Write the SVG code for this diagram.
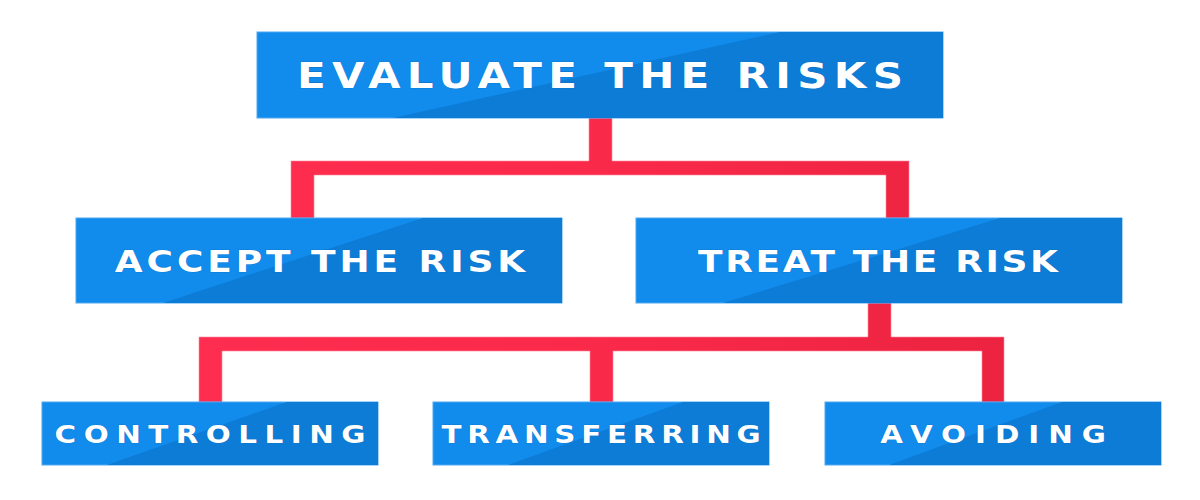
<svg xmlns="http://www.w3.org/2000/svg" width="1200" height="500" viewBox="0 0 1200 500">
<defs>
<linearGradient id="red" gradientUnits="userSpaceOnUse" x1="200" y1="0" x2="1010" y2="0">
<stop offset="0" stop-color="#FF2D4F"/>
<stop offset="0.45" stop-color="#FB2A4B"/>
<stop offset="1" stop-color="#EC2340"/>
</linearGradient>
<style>
.box{fill:#118BEC;stroke:#4FA8F0;stroke-width:1}
.shade{fill:#0D7CD6}
.lbl{font-family:"DejaVu Sans","Liberation Sans",sans-serif;font-weight:bold;fill:#FFFFFF;text-anchor:middle;stroke:#0A6FC4;stroke-width:0.6;paint-order:stroke}
.wire{fill:url(#red);stroke:#FF8A9C;stroke-width:0.6}
</style>
</defs>
<rect width="1200" height="500" fill="#FFFFFF"/>
<g id="connectors">
<path class="wire" d="M589,118 H612 V161 H909 V218 H886 V175 H314 V218 H291 V161 H589 Z"/>
<path class="wire" d="M868,303 H891 V337 H1004 V402 H982 V351 H613 V402 H590 V351 H222 V402 H199 V337 H868 Z"/>
</g>
<g id="evaluate">
<rect class="box" x="257" y="32" width="686" height="86"/>
<polygon class="shade" points="393,118 780,32 943,32 943,118"/>
<text class="lbl" transform="translate(600,88) scale(1.2,1)" x="0" y="0" font-size="35" textLength="505" lengthAdjust="spacing">EVALUATE THE RISKS</text>
</g>
<g id="accept">
<rect class="box" x="76" y="218" width="486" height="85"/>
<polygon class="shade" points="163,303 423,218 562,218 562,303"/>
<text class="lbl" transform="translate(320,272) scale(1.2,1)" x="0" y="0" font-size="30" textLength="342" lengthAdjust="spacing">ACCEPT THE RISK</text>
</g>
<g id="treat">
<rect class="box" x="636" y="218" width="486" height="85"/>
<polygon class="shade" points="723,303 1000,218 1122,218 1122,303"/>
<text class="lbl" transform="translate(878,272) scale(1.2,1)" x="0" y="0" font-size="30" textLength="300" lengthAdjust="spacing">TREAT THE RISK</text>
</g>
<g id="controlling">
<rect class="box" x="42" y="402" width="336" height="63"/>
<polygon class="shade" points="107,465 287,402 378,402 378,465"/>
<text class="lbl" transform="translate(210,443) scale(1.2,1)" x="0" y="0" font-size="24.5" textLength="259" lengthAdjust="spacing">CONTROLLING</text>
</g>
<g id="transferring">
<rect class="box" x="433" y="402" width="336" height="63"/>
<polygon class="shade" points="508,465 683,402 769,402 769,465"/>
<text class="lbl" transform="translate(601,443) scale(1.2,1)" x="0" y="0" font-size="24.5" textLength="266" lengthAdjust="spacing">TRANSFERRING</text>
</g>
<g id="avoiding">
<rect class="box" x="825" y="402" width="336" height="63"/>
<polygon class="shade" points="889,465 1062,402 1161,402 1161,465"/>
<text class="lbl" transform="translate(993,443) scale(1.2,1)" x="0" y="0" font-size="24.5" textLength="188" lengthAdjust="spacing">AVOIDING</text>
</g>
</svg>
